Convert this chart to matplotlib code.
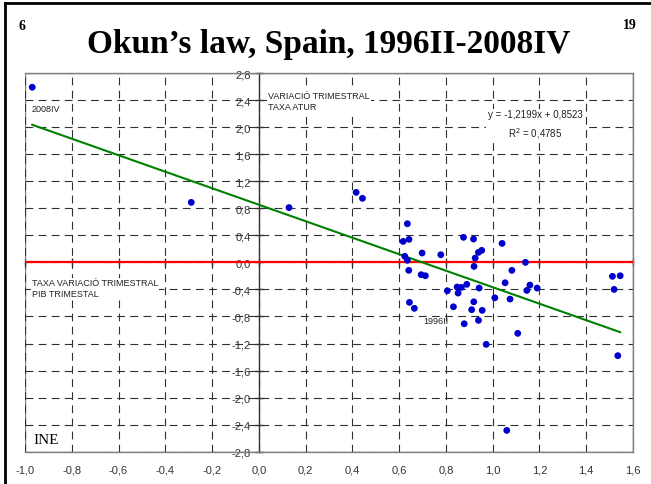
import numpy as np
import matplotlib
matplotlib.use('Agg')
import matplotlib.pyplot as plt
from matplotlib.ticker import FuncFormatter, MultipleLocator
from matplotlib.lines import Line2D

# 数据: 季度 GDP 变化 (x) 与 失业率变化 (y), 1996II-2008IV
pib = [-0.969, -0.289, 0.129, 0.416, 0.443, 0.635, 0.617, 0.642, 0.875, 0.918,
       1.040, 0.698, 0.778, 0.953, 0.939, 0.925, 0.920, 0.624, 0.635, 0.641,
       0.694, 0.712, 1.082, 1.140, 1.512, 1.545, 0.644, 0.665, 0.806, 0.848,
       0.866, 0.889, 0.852, 0.942, 0.919, 0.832, 0.910, 0.955, 0.939, 0.878,
       0.972, 1.009, 1.053, 1.074, 1.107, 1.146, 1.159, 1.190, 1.519, 1.535,
       1.060]
atur = [2.59, 0.887, 0.81, 1.035, 0.947, 0.571, 0.31, 0.34, 0.37, 0.345,
        0.28, 0.138, 0.113, 0.177, 0.148, 0.064, -0.06, 0.089, 0.03, -0.118,
        -0.183, -0.198, -0.118, 0.0, -0.207, -0.198, -0.592, -0.68, -0.42, -0.365,
        -0.37, -0.325, -0.454, -0.38, -0.583, -0.657, -0.70, -0.71, -0.858, -0.908,
        -1.213, -0.524, -0.302, -0.543, -1.05, -0.415, -0.336, -0.38, -0.40, -1.38,
        -2.485]
# 趋势线系数
slope = -1.2199
intercept = 0.8523
r2 = 0.4785

def comma(v, pos=None):
    return f"{v:.1f}".replace('.', ',')

def dec(v):
    return str(v).replace('.', ',')

fig = plt.figure(figsize=(6.51, 4.85), dpi=100)
ax = fig.add_axes([0.0384, 0.0666, 0.934, 0.7808])

ax.set_xlim(-1.0, 1.6)
ax.set_ylim(-2.8, 2.8)
ax.xaxis.set_major_locator(MultipleLocator(0.2))
ax.yaxis.set_major_locator(MultipleLocator(0.4))
ax.xaxis.set_major_formatter(FuncFormatter(comma))
ax.yaxis.set_major_formatter(FuncFormatter(comma))

# 网格
ax.grid(True, color='#303030', linestyle=(0, (7, 4.8)), linewidth=0.8)
ax.set_axisbelow(True)

# 边框
for s in ['top', 'right', 'bottom']:
    ax.spines[s].set_color('#808080')
    ax.spines[s].set_linewidth(1.0)
ax.spines['left'].set_position(('data', 0))
ax.spines['left'].set_color('#333333')
ax.spines['left'].set_linewidth(1.0)
ax.add_patch(plt.Rectangle((0, 0), 1, 1, transform=ax.transAxes, fill=False,
                           edgecolor='#808080', linewidth=1.0, zorder=0.5))

ax.tick_params(axis='x', length=0, pad=9, labelsize=8, labelcolor='#333333')
ax.tick_params(axis='y', direction='inout', length=6, width=1, color='#333333',
               pad=3, labelsize=8, labelcolor='#333333')
for lab in ax.get_xticklabels() + ax.get_yticklabels():
    lab.set_fontfamily('Liberation Sans')

# x 轴刻度在 y=0
sec = ax.secondary_xaxis(0.5)
sec.xaxis.set_major_locator(MultipleLocator(0.2))
sec.tick_params(direction='inout', length=6, width=1, color='#333333', labelbottom=False, labeltop=False)
sec.spines['bottom'].set_visible(False)
sec.spines['top'].set_visible(False)

ax.axhline(0, color='#ff0000', linewidth=1.6, zorder=3)

xs = np.array([min(pib), max(pib)])
ax.plot(xs, slope * xs + intercept, color='#008000', linewidth=1.5, zorder=4)

ax.scatter(pib, atur, s=24, color='#0000cc', edgecolors='none', zorder=5)

sans = 'Liberation Sans'
ax.text(-0.974, 2.28, '2008IV', fontsize=6.5, family=sans, va='center', ha='left', color='#222222')
ax.text(0.702, -0.864, '1996II', fontsize=6.5, family=sans, va='center', ha='left', color='#222222')
ax.text(0.04, 2.386, 'VARIACIÓ TRIMESTRAL\nTAXA ATUR', fontsize=6.5, family=sans,
        va='center', ha='left', color='#222222', linespacing=1.3,
        bbox=dict(facecolor='white', edgecolor='none', pad=0.5), zorder=2)
ax.text(-0.97, -0.385, 'TAXA VARIACIÓ TRIMESTRAL\nPIB TRIMESTAL', fontsize=6.5, family=sans,
        va='center', ha='left', color='#222222', linespacing=1.3,
        bbox=dict(facecolor='white', edgecolor='none', pad=0.5), zorder=2)
eq = f"y = {dec(slope)}x + {dec(intercept)}\nR$^2$ = {dec(r2)}"
ax.text(1.181, 2.04, eq, fontsize=7, family=sans, va='center', ha='center',
        multialignment='center', color='#222222', linespacing=1.5,
        bbox=dict(facecolor='white', edgecolor='none', pad=1.5), zorder=2)
ax.text(-0.962, -2.624, 'INE', fontsize=11, family='Liberation Serif', va='center', ha='left',
        bbox=dict(facecolor='white', edgecolor='none', pad=0.5), zorder=2)

# 标题与页码
fig.text(0.505, 0.89, 'Okun\u2019s law, Spain, 1996II-2008IV', fontsize=24, fontweight='bold',
         family='Liberation Serif', ha='center', va='baseline')
fig.text(0.034, 0.946, '6', fontsize=10, fontweight='bold', family='Liberation Serif',
         ha='center', va='center')
fig.text(0.968, 0.948, '19', fontsize=10, fontweight='bold', family='Liberation Serif',
         ha='center', va='center')

# 幻灯片边框
fig.add_artist(Line2D([0.0077, 1.0], [0.9918, 0.9918], transform=fig.transFigure,
                      color='black', linewidth=2.0))
fig.add_artist(Line2D([0.0077, 0.0077], [0.0, 0.9918], transform=fig.transFigure,
                      color='black', linewidth=2.0))

fig.savefig('out.png', dpi=100)
